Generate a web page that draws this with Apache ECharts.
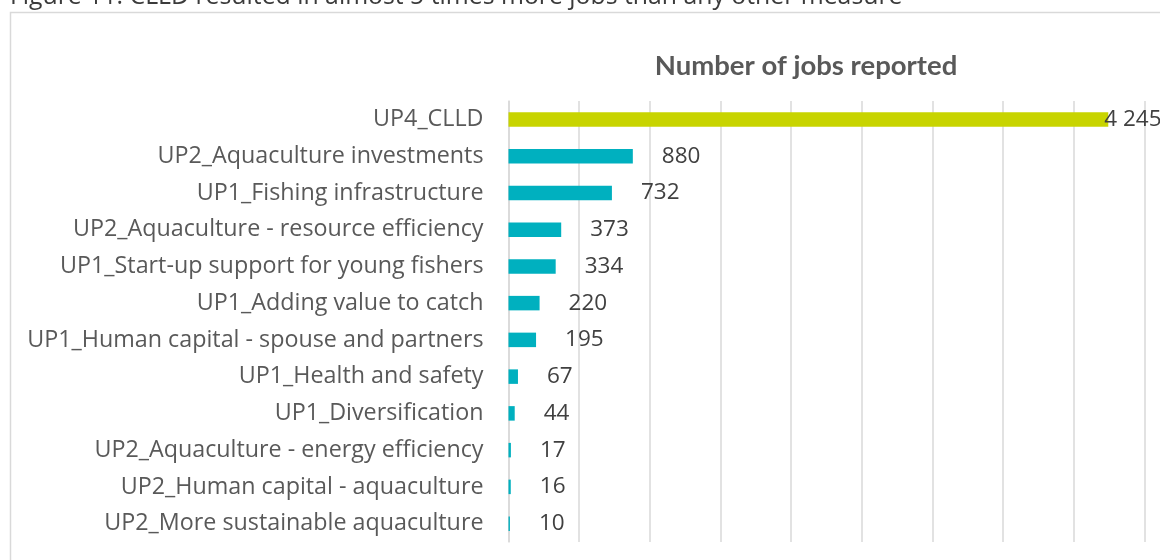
<!DOCTYPE html>
<html>
<head>
<meta charset="utf-8">
<script src="https://cdn.jsdelivr.net/npm/echarts@6/dist/echarts.min.js"></script>
<style>
  html, body { margin: 0; padding: 0; background: #fff; }
  #chart { width: 1160px; height: 560px; }
</style>
</head>
<body>
<div id="chart"></div>
<script>
// Measures, top to bottom
const categories = [
  'UP4_CLLD',
  'UP2_Aquaculture investments',
  'UP1_Fishing infrastructure',
  'UP2_Aquaculture - resource efficiency',
  'UP1_Start-up support for young fishers',
  'UP1_Adding value to catch',
  'UP1_Human capital - spouse and partners',
  'UP1_Health and safety',
  'UP1_Diversification',
  'UP2_Aquaculture - energy efficiency',
  'UP2_Human capital - aquaculture',
  'UP2_More sustainable aquaculture'
];
// Number of jobs reported per measure
const jobs = [4245, 880, 732, 373, 334, 220, 195, 67, 44, 17, 16, 10];

const highlightColor = '#c8d400';
const barColor = '#00b0bf';
const font = '"Open Sans", Lato, sans-serif';
const titleFont = 'Lato, "Open Sans", sans-serif';

const fmt = v => String(v).replace(/\B(?=(\d{3})+(?!\d))/g, ' ');

const barData = jobs.map((v, i) => {
  if (i === 0) {
    return {
      value: v,
      itemStyle: { color: highlightColor },
      label: { distance: -4 }
    };
  }
  return { value: v };
});

const chart = echarts.init(document.getElementById('chart'), null, { renderer: 'canvas' });
chart.setOption({
  animation: false,
  backgroundColor: '#ffffff',
  graphic: [
    {
      type: 'rect',
      silent: true,
      shape: { x: 10.5, y: 12.5, width: 1300, height: 700 },
      style: { fill: 'none', stroke: '#d9d9d9', lineWidth: 1.5 }
    },
    {
      type: 'text',
      left: 10,
      top: -16,
      style: {
        text: 'Figure 11: CLLD resulted in almost 5 times more jobs than any other measure',
        fill: '#3b3b3b',
        font: '24.8px ' + font
      }
    }
  ],
  title: {
    text: 'Number of jobs reported',
    left: 801,
    textAlign: 'center',
    top: 47,
    textStyle: { fontFamily: titleFont, fontSize: 27.5, fontWeight: 'bold', color: '#595959' }
  },
  grid: { left: 508.5, right: 15.7, top: 101, bottom: 18, containLabel: false },
  xAxis: {
    type: 'value',
    min: 0,
    max: 4500,
    interval: 500,
    axisLabel: { show: false },
    axisTick: { show: false },
    axisLine: { show: false },
    splitLine: { lineStyle: { color: '#d9d9d9', width: 1.5 } }
  },
  yAxis: {
    type: 'category',
    inverse: true,
    data: categories,
    axisTick: { show: false },
    axisLine: { show: true, lineStyle: { color: '#d9d9d9', width: 1.5 } },
    axisLabel: { margin: 25, fontFamily: font, fontSize: 23.3, color: '#595959' }
  },
  series: [{
    type: 'bar',
    data: barData,
    barWidth: 14.5,
    itemStyle: { color: barColor },
    label: {
      show: true,
      position: 'right',
      distance: 29,
      fontFamily: font,
      fontSize: 22.5,
      color: '#404040',
      formatter: p => fmt(p.value)
    }
  }]
});
</script>
</body>
</html>
